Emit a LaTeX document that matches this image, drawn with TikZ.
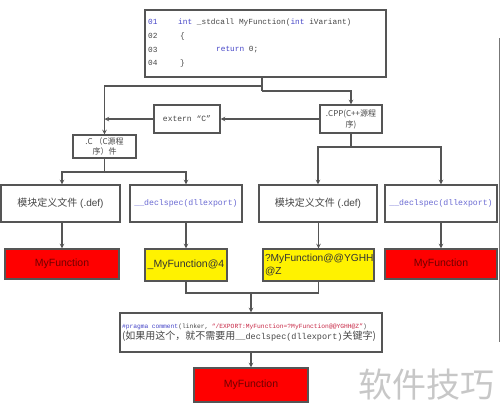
\documentclass[tikz,border=0pt]{standalone}
\usepackage{fontspec}
\setmainfont{Liberation Sans}
\newfontfamily\cjk{Noto Sans CJK SC}
\newfontfamily\codefont{Liberation Mono}
\usetikzlibrary{positioning}
\definecolor{kwblue}{RGB}{70,70,200}
\definecolor{linegray}{RGB}{85,85,85}
\definecolor{txtgray}{RGB}{70,70,70}
\definecolor{strred}{RGB}{200,40,70}
\definecolor{darkred}{RGB}{110,0,0}

\begin{document}
\begin{tikzpicture}[x=1pt,y=-1pt,
	box/.style={draw=linegray,line width=1.1pt,fill=white,inner sep=1pt},
	redbox/.style={box,fill=red,text=darkred,font=\fontsize{10.5}{12}\selectfont},
	yelbox/.style={box,fill=yellow,text=black!80,font=\fontsize{10.5}{12}\selectfont},
	deftxt/.style={text=txtgray,font=\fontsize{10}{12}\selectfont},
	dectxt/.style={text=kwblue!80,font=\codefont\fontsize{8.2}{10}\selectfont},
	codetxt/.style={anchor=west,inner sep=0pt,text=txtgray,font=\codefont\fontsize{7.8}{9}\selectfont},
	line/.style={draw=linegray,line width=1.1pt},
	arr/.style={line,->,>=stealth}]
				\useasboundingbox (0,0) rectangle (500,416);
				% source code
				\node[box,minimum width=241pt,minimum height=67pt] (code) at (265.5,43.5) {};
				\foreach \n/\y/\c in {01/22/kwblue,02/36/txtgray,03/50/txtgray,04/63/txtgray}
					\node[codetxt,text=\c] (n\n) at (148,\y) {\n};
				\node[codetxt] (c1) at (178,22) {{\color{kwblue}int} \_stdcall MyFunction({\color{kwblue}int} iVariant)};
				\node[codetxt] (c2) at (180,36) {\{};
				\node[codetxt] (c3) at (216,50) {{\color{kwblue}return} 0;};
				\node[codetxt] (c4) at (180,63) {\}};
				% sources
				\node[box,minimum width=62pt,minimum height=28pt,align=center,font=\cjk\fontsize{8}{11}\selectfont,text=txtgray] (cpp) at (351,119) {.CPP(C++源程\\序)};
				\node[box,minimum width=66pt,minimum height=28pt,font=\codefont\fontsize{8}{10}\selectfont,text=txtgray] (extc) at (187,119) {extern “C”};
				\node[box,minimum width=63pt,minimum height=23pt,align=center,font=\cjk\fontsize{8}{10}\selectfont,text=txtgray] (cfile) at (104.5,146.5) {.C （C源程\\序）件};
				% export methods
				\node[box,deftxt,minimum width=119pt,minimum height=37pt] (def1) at (60.5,203.5) {{\cjk 模块定义文件} (.def)};
				\node[box,dectxt,minimum width=112pt,minimum height=37pt] (dec1) at (186,203.5) {\_\_declspec(dllexport)};
				\node[box,deftxt,minimum width=118pt,minimum height=37pt] (def2) at (318,203.5) {{\cjk 模块定义文件} (.def)};
				\node[box,dectxt,minimum width=112pt,minimum height=37pt] (dec2) at (441,203.5) {\_\_declspec(dllexport)};
				% exported names
				\node[redbox,minimum width=114pt,minimum height=30pt] (r1) at (62,264) {MyFunction};
				\node[yelbox,minimum width=82pt,minimum height=32pt] (y1) at (186,265) {\_MyFunction@4};
				\node[yelbox,minimum width=111pt,minimum height=32pt,text width=107pt,align=left,font=\fontsize{10.2}{13}\selectfont] (y2) at (318.5,265) {?MyFunction@@YGHH\\@Z};
				\node[redbox,minimum width=112pt,minimum height=30pt] (r2) at (441,264) {MyFunction};
				% pragma
				\node[box,minimum width=262pt,minimum height=39pt,text width=258pt,align=left,text=txtgray] (prag) at (251,332.5)
					{{\codefont\fontsize{6.3}{9}\selectfont{\color{kwblue}\#pragma comment}(linker, {\color{strred}“/EXPORT:MyFunction=?MyFunction@@YGHH@Z”})}\\[-1pt]
					{\fontsize{10}{12}\selectfont{\cjk (如果用这个，就不需要用}{\codefont\fontsize{8.5}{12}\selectfont\_\_declspec(dllexport)}{\cjk 关键字)}}};
				\node[redbox,minimum width=114pt,minimum height=34pt] (r3) at (251,385) {MyFunction};
				% connectors
				\coordinate (j0) at (262,86);
				\coordinate (j1) at (262,91);
				\draw[line] (code.south -| j0) -- (j1);
				\draw[arr] (j0) -| (cfile);
				\draw[arr] (j1) -| (cpp);
				\draw[arr] (cpp) -- (extc);
				\draw[arr] (extc) -- (extc -| cfile);
				\coordinate (j2) at (104.5,172);
				\draw[line] (cfile) -- (j2);
				\draw[arr] (j2) -| (def1.north -| r1);
				\draw[arr] (j2) -| (dec1);
				\coordinate (j3) at (351,147);
				\draw[line] (cpp) -- (j3);
				\draw[arr] (j3) -| (def2);
				\draw[arr] (j3) -| (dec2);
				\draw[arr] (def1.south -| r1) -- (r1);
				\draw[arr] (dec1) -- (y1);
				\draw[arr] (def2.south -| y2) -- (y2);
				\draw[arr] (dec2) -- (r2);
				\coordinate (j4) at (251,293);
				\draw[line] (y1) |- (j4) -| (y2);
				\draw[arr] (j4) -- (prag);
				\draw[arr] (prag) -- (r3);
				% right edge
				\draw[linegray!80,line width=1pt] (499,38) -- (499,342);
				\node[font=\cjk\fontsize{34}{34}\selectfont,text=black!22] (wm) at (426,385) {软件技巧};
			\end{tikzpicture}
\end{document}
